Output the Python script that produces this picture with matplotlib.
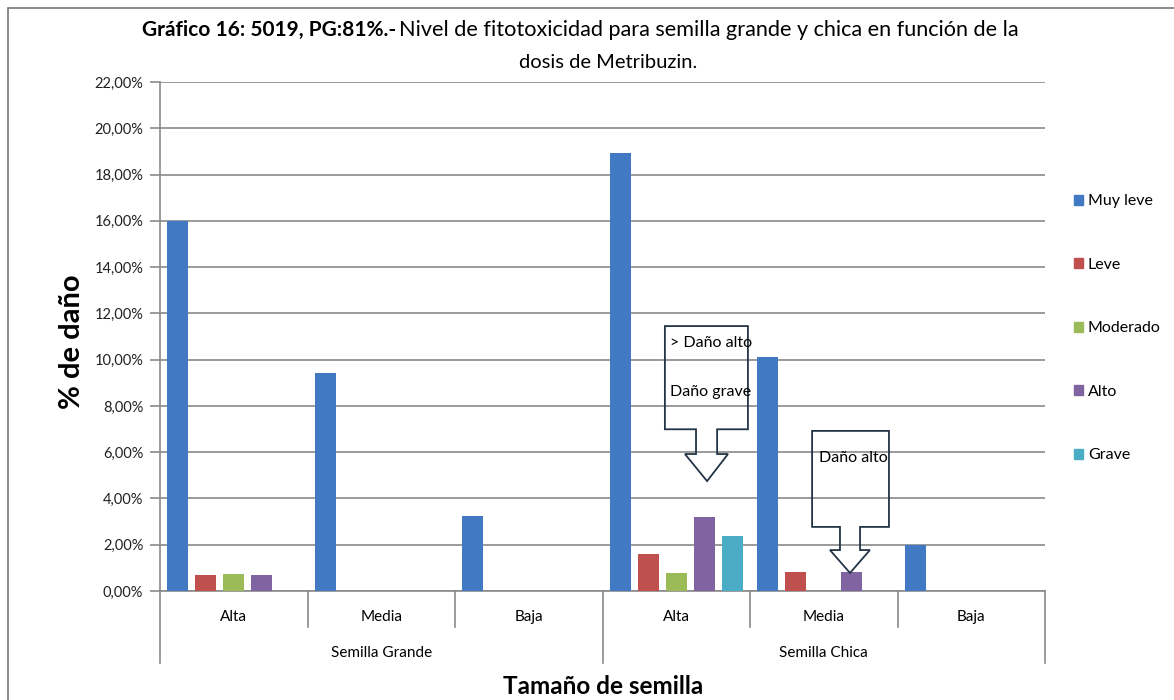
import matplotlib
matplotlib.use("Agg")
import matplotlib.pyplot as plt
import matplotlib.transforms as mtransforms
from matplotlib.patches import Polygon, Rectangle, Patch
import numpy as np

plt.rcParams['font.family'] = ['Lato', 'DejaVu Sans']

# data (percent damage)
sizes = ['Semilla Grande', 'Semilla Chica']
doses = ['Alta', 'Media', 'Baja']
series = ['Muy leve', 'Leve', 'Moderado', 'Alto', 'Grave']
muy_leve = [16.0, 9.42, 3.24, 18.93, 10.1, 1.98]
leve = [0.69, 0.0, 0.0, 1.6, 0.82, 0.0]
moderado = [0.73, 0.0, 0.0, 0.78, 0.0, 0.0]
alto = [0.69, 0.0, 0.0, 3.2, 0.82, 0.0]
grave = [0.0, 0.0, 0.0, 2.38, 0.0, 0.0]
colors = ['#4179C2', '#C0504D', '#9BBB59', '#8064A2', '#4BACC6']
yticks = np.arange(0, 23, 2)

W, H = 1174, 700
fig = plt.figure(figsize=(W / 100, H / 100), dpi=100)
ax = fig.add_axes([160 / W, (H - 591) / H, (1045 - 160) / W, (591 - 82) / H])

x = np.arange(6)
for k, (vals, c) in enumerate(zip([muy_leve, leve, moderado, alto, grave], colors)):
    ax.bar(x + (k - 2) * 0.19, vals, width=0.145, color=c, zorder=3, label=series[k])

ax.set_xlim(-0.5, 5.5)
ax.set_ylim(0, 22)
ax.set_yticks(yticks)
ax.set_yticklabels([f"{v:.2f}%".replace('.', ',') for v in yticks], fontsize=10.5, color='#222222')
ax.yaxis.grid(True, color='#8a8a8a', lw=1.2, zorder=1)
ax.tick_params(axis='y', length=7, color='#8a8a8a', width=1.2, pad=5)
ax.set_xticks([])
for s in ['top', 'right']:
    ax.spines[s].set_visible(False)
ax.spines['left'].set_color('#8a8a8a')
ax.spines['bottom'].set_color('#8a8a8a')
ax.spines['left'].set_linewidth(1.2)
ax.spines['bottom'].set_linewidth(1.2)

# two-level category axis
tr = mtransforms.blended_transform_factory(ax.transData, ax.transAxes)
for b in np.arange(-0.5, 6, 1):
    low = -0.1415 if b in (-0.5, 2.5, 5.5) else -0.0707
    ax.plot([b, b], [0, low], transform=tr, color='#8a8a8a', lw=1.2, clip_on=False)
for i in x:
    ax.text(i, -0.051, doses[i % 3], transform=tr, ha='center', va='center', fontsize=11)
for j, s in enumerate(sizes):
    ax.text(1 + 3 * j, -0.122, s, transform=tr, ha='center', va='center', fontsize=11)

fig.text(72 / W, 1 - 342 / H, '% de daño', rotation=90, ha='center', va='center',
         fontsize=21, fontweight='bold')
fig.text(603 / W, 1 - 686 / H, 'Tamaño de semilla', ha='center', va='center',
         fontsize=17.5, fontweight='bold')

# title (bold prefix + normal text)
t1 = fig.text(142 / W, 1 - 30 / H, 'Gráfico 16: 5019, PG:81%.-', ha='left', va='center',
              fontsize=15, fontweight='bold')
fig.canvas.draw()
bb = t1.get_window_extent(fig.canvas.get_renderer())
fig.text(bb.x1 / W + 3 / W, 1 - 30 / H,
         'Nivel de fitotoxicidad para semilla grande y chica en función de la',
         ha='left', va='center', fontsize=15.6)
fig.text(608 / W, 1 - 62 / H, 'dosis de Metribuzin.', ha='center', va='center', fontsize=14.5)

# callouts
def callout(x0, x1, ytop, ybot, s0, s1, ystem, h0, h1, tip, ytip):
    pts = [(x0, ytop), (x1, ytop), (x1, ybot), (s1, ybot), (s1, ystem), (h1, ystem),
           (tip, ytip), (h0, ystem), (s0, ystem), (s0, ybot), (x0, ybot)]
    ax.add_patch(Polygon(pts, closed=True, fill=False, edgecolor='#243447', lw=1.3, zorder=4))

callout(2.923, 3.486, 11.45, 6.99, 3.134, 3.277, 5.92, 3.059, 3.351, 3.209, 4.75)
ax.text(2.955, 10.7, '> Daño alto', fontsize=11.5, va='center', zorder=5)
ax.text(2.955, 8.6, 'Daño grave', fontsize=11.5, va='center', zorder=5)
callout(3.921, 4.442, 6.92, 2.77, 4.110, 4.246, 1.77, 4.042, 4.313, 4.178, 0.78)
ax.text(3.97, 5.75, 'Daño alto', fontsize=11.5, va='center', zorder=5)

# legend
handles = [Patch(color=c) for c in colors]
fig.legend(handles, series, loc='upper left', bbox_to_anchor=(1060 / W, 1 - 180 / H),
           frameon=False, fontsize=11.5, handlelength=0.55, handleheight=0.6,
           handletextpad=0.3, labelspacing=3.1)

# outer frame
fig.patches.append(Rectangle((8 / W, -0.1), 1.2, 1 - 8 / H + 0.1, transform=fig.transFigure,
                             fill=False, edgecolor='#777777', lw=1.2))

fig.savefig('out.png', dpi=100)
